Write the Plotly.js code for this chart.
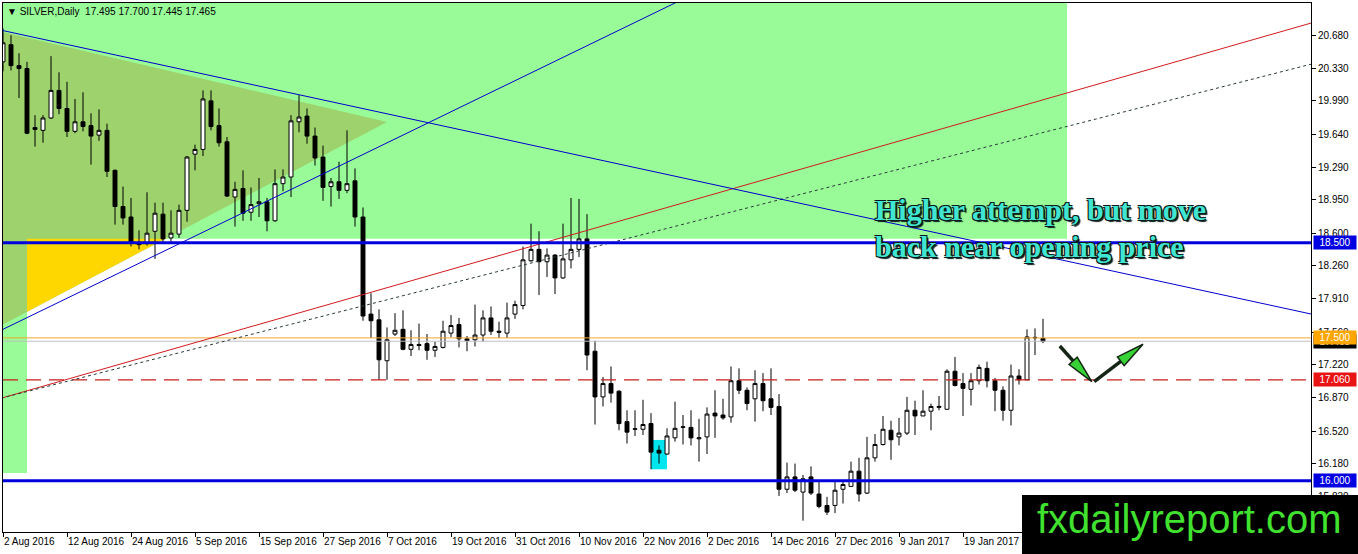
<!DOCTYPE html>
<html>
<head>
<meta charset="utf-8">
<script src="https://cdn.plot.ly/plotly-3.0.1.min.js"></script>
<style>
  html, body { margin: 0; padding: 0; background: #fff; }
  #chart { width: 1358px; height: 554px; }
</style>
</head>
<body>
<div id="chart"></div>
<script>
// ---------- DATA (daily SILVER candles) ----------
const tickDates = ["2 Aug 2016","12 Aug 2016","24 Aug 2016","5 Sep 2016","15 Sep 2016","27 Sep 2016","7 Oct 2016","19 Oct 2016","31 Oct 2016","10 Nov 2016","22 Nov 2016","2 Dec 2016","14 Dec 2016","27 Dec 2016","9 Jan 2017","19 Jan 2017"];
const tickBars = [0,8,16,24,32,40,48,56,64,72,80,88,96,104,112,120];

const opens = [20.40,20.58,20.36,20.33,19.71,19.68,19.81,20.10,19.91,19.67,19.77,19.73,19.63,19.68,19.26,18.88,18.77,18.50,18.49,18.62,
 18.80,18.55,18.59,18.84,19.43,19.48,19.99,19.73,19.56,18.98,19.07,18.82,18.91,18.93,18.73,19.12,19.19,19.77,19.83,19.62,
 19.40,19.09,19.14,19.05,19.15,18.77,17.75,17.69,17.26,17.54,17.59,17.38,17.43,17.44,17.37,17.40,17.55,17.64,17.49,17.48,
 17.53,17.71,17.57,17.55,17.75,17.84,18.31,18.43,18.30,18.37,18.13,18.32,18.43,18.54,17.36,16.88,17.02,16.94,16.62,16.54,
 16.54,16.60,16.32,16.28,16.45,16.56,16.56,16.44,16.46,16.71,16.69,16.67,17.05,16.95,16.86,17.02,16.86,16.78,15.91,16.04,
 15.88,16.04,15.86,15.74,15.74,15.91,15.94,16.10,15.87,16.24,16.38,16.53,16.46,16.50,16.74,16.68,16.73,16.77,16.75,17.15,
 17.02,16.96,17.05,17.18,17.05,16.95,16.74,17.10,17.06,17.50,17.495];
const highs = [20.75,20.68,20.49,20.40,19.84,19.84,20.46,20.29,20.19,20.01,20.08,19.86,19.90,19.75,19.27,19.09,18.97,18.63,19.03,18.92,
 18.92,18.84,18.90,19.41,19.53,20.10,20.10,19.91,19.61,19.14,19.26,19.08,19.18,18.97,19.27,19.27,19.84,20.05,19.91,19.71,
 19.52,19.18,19.35,19.68,19.28,18.87,17.97,17.80,17.61,17.76,17.79,17.58,17.65,17.54,17.46,17.68,17.74,17.71,17.52,17.85,
 17.79,17.83,17.67,17.87,17.89,18.46,18.70,18.62,18.44,18.38,18.70,18.97,18.96,18.80,17.47,17.09,17.20,16.95,16.74,16.74,
 16.85,16.71,16.37,16.55,16.83,16.69,16.74,16.65,16.77,16.95,16.86,17.20,17.18,16.98,17.16,17.13,17.18,16.91,16.19,16.18,
 16.06,16.15,15.99,15.83,16.01,16.01,16.20,16.24,16.46,16.49,16.68,16.63,16.66,16.88,16.84,16.95,16.81,16.89,17.17,17.30,
 17.13,17.13,17.22,17.25,17.08,16.99,17.22,17.17,17.59,17.60,17.700];
const lows = [20.30,20.31,20.02,19.64,19.51,19.55,19.80,19.85,19.61,19.65,19.67,19.32,19.57,19.19,18.69,18.69,18.46,18.43,18.47,18.33,
 18.51,18.51,18.55,18.72,19.26,19.41,19.68,19.51,18.98,18.67,18.73,18.73,18.77,18.62,18.72,19.04,18.98,19.66,19.54,19.31,
 18.94,18.88,18.96,19.02,18.67,17.68,17.50,17.06,17.06,17.52,17.37,17.31,17.37,17.27,17.30,17.39,17.51,17.40,17.36,17.41,
 17.46,17.53,17.50,17.50,17.70,17.80,18.30,17.95,18.14,17.96,18.12,18.23,18.35,17.16,16.59,16.78,16.82,16.53,16.39,16.47,
 16.48,16.12,16.18,16.27,16.41,16.38,16.37,16.20,16.28,16.45,16.64,16.61,16.91,16.74,16.62,16.73,16.69,15.84,15.87,15.88,
 15.58,15.85,15.71,15.64,15.66,15.76,15.94,15.78,15.86,16.20,16.37,16.22,16.37,16.48,16.48,16.68,16.53,16.74,16.75,16.99,
 16.68,16.79,17.01,16.98,16.73,16.63,16.58,17.01,17.06,17.32,17.445];
const closes = [20.60,20.36,20.33,19.65,19.69,19.81,20.10,19.91,19.67,19.77,19.72,19.62,19.68,19.25,18.88,18.76,18.50,18.48,18.60,18.81,
 18.54,18.60,18.84,19.40,19.48,20.01,19.72,19.55,18.99,19.06,18.81,18.90,18.93,18.73,19.12,19.19,19.78,19.82,19.62,19.39,
 19.08,19.14,19.05,19.12,18.77,17.73,17.68,17.27,17.48,17.58,17.38,17.43,17.42,17.37,17.41,17.57,17.63,17.49,17.47,17.53,
 17.71,17.57,17.56,17.71,17.85,18.32,18.43,18.30,18.37,18.13,18.33,18.43,18.54,17.32,16.88,17.02,16.92,16.60,16.51,16.545,
 16.59,16.30,16.29,16.47,16.55,16.565,16.45,16.45,16.70,16.68,16.66,17.05,16.95,16.81,17.02,16.84,16.77,15.91,16.04,15.90,
 16.02,15.87,15.73,15.67,15.90,15.96,16.10,15.86,16.24,16.38,16.54,16.43,16.50,16.74,16.68,16.73,16.78,16.78,17.15,17.00,
 16.97,17.05,17.19,17.05,16.95,16.74,17.10,17.06,17.51,17.505,17.465];

const priceTicks = [20.68,20.33,19.99,19.64,19.29,18.95,18.60,18.26,17.91,17.56,17.22,16.87,16.52,16.18,15.83];

// horizontal levels
const levelSupportHigh = 18.5, levelSupportLow = 16.0, levelDash = 17.06, levelOpen = 17.5, levelBid = 17.465;
// trendline anchors [bar, price]
const downTrend  = [[0, 20.728], [163.5, 17.751]];
const upTrendBlue = [[0, 17.590], [84, 21.018]];
const upTrendRed = [[0, 16.872], [163.5, 20.807]];
const upTrendDot = [[0, 16.872], [163.5, 20.375]];
// zones
const zoneTopBottom = 18.542, zoneRightBar = 133, stripRightBar = 3, stripBottom = 16.08;
const triTop = [-1, 20.733], triRight = [48, 19.768], triBottom = [-1, 17.597];
const yellowTri = [[3, 18.542], [20.3, 18.542], [3, 17.774]];
const highlightBox = {x0: 81, x1: 83, y0: 16.12, y1: 16.428};
// V arrows [tail, tip]
const arrowsV = [[[132.1, 17.415], [136.1, 17.04]], [[136.4, 17.04], [142.5, 17.433]]];

// ---------- CHART ----------
const W = 1358, H = 554, M = {l: 3, r: 47, t: 3, b: 22};
const xRange = [0, 163.5], yRange = [15.461, 21.018];
const plotW = W - M.l - M.r, plotH = H - M.t - M.b;
const kx = plotW / (xRange[1] - xRange[0]);
const ky = plotH / (yRange[1] - yRange[0]);

const xIdx = opens.map((_, i) => i);

const trace = {
  type: 'candlestick', x: xIdx, open: opens, high: highs, low: lows, close: closes,
  increasing: {line: {color: '#000', width: 1}, fillcolor: '#ffffff'},
  decreasing: {line: {color: '#000', width: 1}, fillcolor: '#000000'},
  whiskerwidth: 0, hoverinfo: 'skip', showlegend: false
};

const shapes = [];
// pale green zones
shapes.push({type: 'rect', xref: 'x', yref: 'y', x0: -2, x1: zoneRightBar, y0: zoneTopBottom, y1: 22, fillcolor: '#98fb98', line: {width: 0}, layer: 'below'});
shapes.push({type: 'rect', xref: 'x', yref: 'y', x0: -2, x1: stripRightBar, y0: stripBottom, y1: zoneTopBottom, fillcolor: '#98fb98', line: {width: 0}, layer: 'below'});
// triangle (olive where it overlays zone)
shapes.push({type: 'path', xref: 'x', yref: 'y', layer: 'below', line: {width: 0}, fillcolor: '#9dd26c',
  path: `M ${triTop[0]} ${triTop[1]} L ${triRight[0]} ${triRight[1]} L ${triBottom[0]} ${triBottom[1]} Z`});
shapes.push({type: 'path', xref: 'x', yref: 'y', layer: 'below', line: {width: 0}, fillcolor: '#ffd700',
  path: `M ${yellowTri[0][0]} ${yellowTri[0][1]} L ${yellowTri[1][0]} ${yellowTri[1][1]} L ${yellowTri[2][0]} ${yellowTri[2][1]} Z`});
// cyan highlight box
shapes.push({type: 'rect', xref: 'x', yref: 'y', layer: 'below', x0: highlightBox.x0, x1: highlightBox.x1, y0: highlightBox.y0, y1: highlightBox.y1, fillcolor: '#00e5ee', line: {width: 0}});

function ext(a, b, xs) { // extend line through anchors to bars xs
  const s = (b[1] - a[1]) / (b[0] - a[0]);
  return xs.map(x => [x, a[1] + (x - a[0]) * s]);
}
function seg(pts, color, width, dash) {
  return {type: 'line', xref: 'x', yref: 'y', x0: pts[0][0], y0: pts[0][1], x1: pts[1][0], y1: pts[1][1],
    line: {color: color, width: width, dash: dash || 'solid'}, layer: 'above'};
}
// horizontal levels
function hline(y, color, width, dash) {
  return {type: 'line', xref: 'paper', yref: 'y', x0: 0, x1: 1, y0: y, y1: y, line: {color: color, width: width, dash: dash || 'solid'}, layer: 'above'};
}
shapes.push(hline(levelBid, '#c0c0c0', 1));
shapes.push(hline(levelOpen, '#f0a830', 1));
shapes.push(hline(levelDash, '#c81e1e', 1.2, '15px,8px'));
shapes.push(seg(ext(upTrendRed[0], upTrendRed[1], [-1, 164]), '#d01c1c', 1));
shapes.push(seg(ext(upTrendDot[0], upTrendDot[1], [-1, 164]), '#2a3a3a', 1, 'dot'));
shapes.push(seg(ext(downTrend[0], downTrend[1], [-1, 164]), '#0000cd', 1));
shapes.push(seg(ext(upTrendBlue[0], upTrendBlue[1], [-1, 100]), '#0000cd', 1));
shapes.push(hline(levelSupportHigh, '#0000dd', 3));
shapes.push(hline(levelSupportLow, '#0000dd', 3));

// V arrows
arrowsV.forEach(([tail, tip]) => {
  const tx = tail[0] * kx, ty = -tail[1] * ky, hx = tip[0] * kx, hy = -tip[1] * ky;
  const dx = hx - tx, dy = hy - ty, len = Math.hypot(dx, dy);
  const ux = dx / len, uy = dy / len, nx = -uy, ny = ux;
  const L = 28, Wd = 5.5;
  const bx = hx - L * ux, by = hy - L * uy;
  const toD = (px, py) => [px / kx, -py / ky];
  const b = toD(bx, by), p1 = toD(bx + Wd * nx, by + Wd * ny), p2 = toD(bx - Wd * nx, by - Wd * ny);
  shapes.push({type: 'line', xref: 'x', yref: 'y', x0: tail[0], y0: tail[1], x1: b[0], y1: b[1], line: {color: '#152515', width: 3.5}, layer: 'above'});
  shapes.push({type: 'path', xref: 'x', yref: 'y', layer: 'above', fillcolor: '#36d236', line: {color: '#152515', width: 1.5},
    path: `M ${p1[0]} ${p1[1]} L ${tip[0]} ${tip[1]} L ${p2[0]} ${p2[1]} Z`});
});

// watermark box
const pxX = px => (px - M.l) / plotW;
const pxY = py => (H - M.b - py) / plotH;
shapes.push({type: 'rect', xref: 'paper', yref: 'paper', x0: pxX(1022), x1: pxX(1362), y0: pxY(558), y1: pxY(495), fillcolor: '#000', line: {width: 0}, layer: 'above'});

const labelFont = {family: 'Liberation Sans, Arial, sans-serif', size: 10, color: '#000'};

const annotations = [];
annotations.push({xref: 'paper', yref: 'paper', x: pxX(5), y: pxY(11), xanchor: 'left', yanchor: 'middle', showarrow: false,
  text: '\u25BC SILVER,Daily\u00a0\u00a0' + [opens[130], highs[130], lows[130], closes[130]].map(v => v.toFixed(3)).join(' '),
  font: {family: 'Liberation Sans, Arial, sans-serif', size: 10, color: '#000'}});

function priceBox(y, bg) {
  return {xref: 'paper', yref: 'y', x: 1, y: y, xanchor: 'left', yanchor: 'middle', xshift: 2, showarrow: false,
    text: y.toFixed(3), bgcolor: bg, width: 40, height: 11, borderpad: 1, align: 'center',
    font: {family: 'Liberation Sans, Arial, sans-serif', size: 10, color: '#fff'}};
}
annotations.push(priceBox(levelSupportHigh, '#0000e0'));
annotations.push(priceBox(levelBid, '#000000'));
annotations.push(priceBox(levelOpen, '#ffa500'));
annotations.push(priceBox(levelDash, '#e81414'));
annotations.push(priceBox(levelSupportLow, '#0000e0'));

const noteFont = {family: 'Liberation Serif, Times New Roman, serif', size: 30, color: '#40e6d2', weight: 700,
  shadow: '1px 1px 0 #0a1a1a, -1px -1px 0 #0a1a1a, 1px -1px 0 #0a1a1a, -1px 1px 0 #0a1a1a, 2px 2px 1px #0a1a1a'};
annotations.push({xref: 'paper', yref: 'paper', x: pxX(873), y: pxY(210), xanchor: 'left', yanchor: 'middle', showarrow: false,
  text: '<b>Higher attempt, but move</b>', font: noteFont});
annotations.push({xref: 'paper', yref: 'paper', x: pxX(873), y: pxY(247), xanchor: 'left', yanchor: 'middle', showarrow: false,
  text: '<b>back near opening price</b>', font: noteFont});

annotations.push({xref: 'paper', yref: 'paper', x: pxX(1189.5), y: pxY(519), xanchor: 'center', yanchor: 'middle', showarrow: false,
  text: 'fxdailyreport.com', font: {family: 'Liberation Sans, Arial, sans-serif', size: 40, color: '#41e22f'}});

const layout = {
  width: W, height: H, margin: {l: M.l, r: M.r, t: M.t, b: M.b, pad: 0},
  paper_bgcolor: '#ffffff', plot_bgcolor: '#ffffff', showlegend: false, dragmode: false,
  xaxis: {range: xRange, tickmode: 'array', tickvals: tickBars, ticktext: tickDates, ticks: 'outside', ticklen: 4, tickcolor: '#000',
    showline: true, linecolor: '#000', linewidth: 1, mirror: true, showgrid: false, zeroline: false, tickangle: 0,
    ticklabelposition: 'outside right', tickfont: labelFont, rangeslider: {visible: false}, fixedrange: true},
  yaxis: {range: yRange, side: 'right', tickmode: 'array', tickvals: priceTicks, ticktext: priceTicks.map(v => v.toFixed(3)),
    ticks: 'outside', ticklen: 4, tickcolor: '#000', showline: true, linecolor: '#000', linewidth: 1, mirror: true,
    showgrid: false, zeroline: false, tickfont: labelFont, fixedrange: true},
  shapes: shapes, annotations: annotations
};

Plotly.newPlot('chart', [trace], layout, {staticPlot: true, displayModeBar: false});
</script>
</body>
</html>
